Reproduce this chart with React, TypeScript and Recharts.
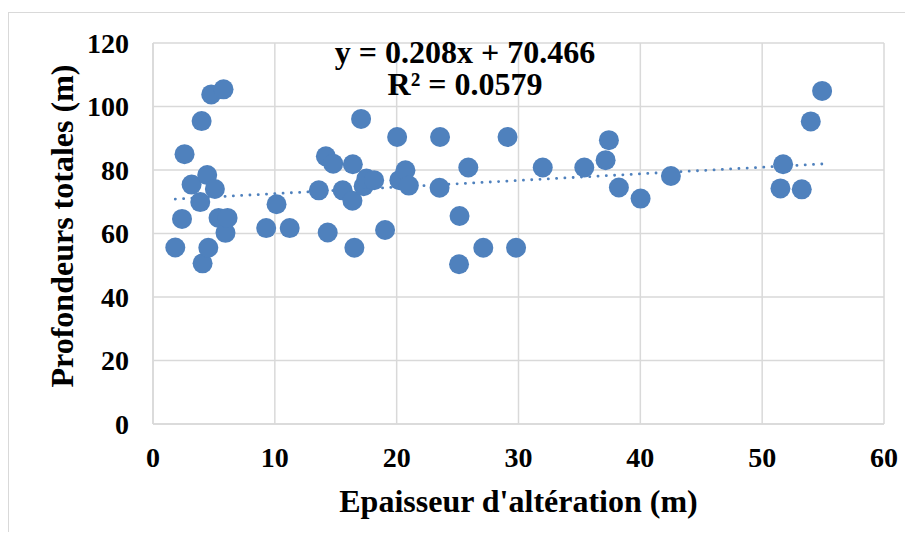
import React from "react";
import {
  ScatterChart,
  Scatter,
  XAxis,
  YAxis,
  CartesianGrid,
  ReferenceLine,
  Label,
} from "recharts";

const epaisseur: number[] = [
  1.83, 2.38, 2.59, 3.17, 3.88, 3.99, 4.45, 4.78, 4.07, 4.54,
  5.08, 5.38, 5.79, 5.95, 6.12, 9.29, 10.14, 11.22, 13.61, 14.19,
  14.34, 14.79, 15.57, 16.4, 16.37, 16.53, 17.08, 17.29, 17.52, 18.15,
  19.05, 20.04, 20.22, 20.72, 21.0, 23.56, 23.52, 25.16, 25.12, 25.88,
  27.11, 29.1, 29.8, 31.99, 35.4, 37.15, 37.42, 38.24, 40.02, 42.51,
  51.5, 51.72, 53.25, 53.99, 54.92,
];
const profondeur: number[] = [
  55.6, 64.6, 85.0, 75.4, 69.9, 95.4, 78.4, 103.8, 50.6, 55.5,
  74.0, 64.9, 105.4, 60.2, 64.9, 61.7, 69.2, 61.7, 73.6, 84.3,
  60.3, 82.0, 73.6, 81.8, 70.3, 55.5, 96.1, 74.9, 77.3, 76.8,
  61.1, 90.4, 76.8, 79.9, 75.1, 90.4, 74.4, 65.5, 50.3, 80.8,
  55.5, 90.4, 55.5, 80.8, 80.8, 83.1, 89.4, 74.5, 71.0, 78.1,
  74.2, 81.8, 73.9, 95.3, 104.9,
];
const xTicks: number[] = [0, 10, 20, 30, 40, 50, 60];
const yTicks: number[] = [0, 20, 40, 60, 80, 100, 120];
const slope = 0.208;
const intercept = 70.466;
const equationText = "y = 0.208x + 70.466";
const r2Text = "R² = 0.0579";
const xTitle = "Epaisseur d'altération (m)";
const yTitle = "Profondeurs totales (m)";

const points = epaisseur.map((x, i) => ({ x, y: profondeur[i] }));
const xMin = Math.min(...epaisseur);
const xMax = Math.max(...epaisseur);

const FONT = "'Liberation Serif', 'Times New Roman', serif";
const DOT = "#4F81BD";
const GRID = "#d9d9d9";

const Dot = (props: any) => (
  <circle cx={props.cx} cy={props.cy} r={10} fill={DOT} />
);

export default function App() {
  return (
    <div
      style={{
        position: "relative",
        width: 913,
        height: 540,
        margin: -8,
        overflow: "hidden",
        background: "#fff",
        fontFamily: FONT,
      }}
    >
      <div
        style={{
          position: "absolute",
          left: 8,
          top: 12,
          width: 1200,
          height: 1200,
          border: `1.5px solid ${GRID}`,
        }}
      />
      <div style={{ position: "absolute", left: 0, top: 0 }}>
        <ScatterChart
          width={913}
          height={540}
          margin={{ top: 43, right: 29, bottom: 0, left: 0 }}
        >
          <CartesianGrid stroke={GRID} strokeWidth={1.5} />
          <XAxis
            type="number"
            dataKey="x"
            domain={[0, 60]}
            ticks={xTicks}
            interval={0}
            height={116}
            axisLine={{ stroke: GRID, strokeWidth: 1.5 }}
            tickLine={false}
            tickSize={0}
            tickMargin={23}
            tick={{ fill: "#000", fontSize: 28, fontWeight: 700, fontFamily: FONT }}
          >
            <Label
              content={(p: any) => {
                const vb = p.viewBox || {};
                return (
                  <text
                    x={vb.x + vb.width / 2}
                    y={512}
                    textAnchor="middle"
                    fill="#000"
                    fontSize={32}
                    fontWeight={700}
                    fontFamily={FONT}
                  >
                    {xTitle}
                  </text>
                );
              }}
            />
          </XAxis>
          <YAxis
            type="number"
            dataKey="y"
            domain={[0, 120]}
            ticks={yTicks}
            interval={0}
            width={153}
            axisLine={{ stroke: GRID, strokeWidth: 1.5 }}
            tickLine={false}
            tickSize={0}
            tickMargin={24}
            tick={{ fill: "#000", fontSize: 28, fontWeight: 700, fontFamily: FONT }}
          >
            <Label
              content={() => {
                const cx = 73;
                const cy = 226;
                return (
                  <text
                    x={cx}
                    y={cy}
                    transform={`rotate(-90 ${cx} ${cy})`}
                    textAnchor="middle"
                    fill="#000"
                    fontSize={32}
                    fontWeight={700}
                    fontFamily={FONT}
                  >
                    {yTitle}
                  </text>
                );
              }}
            />
          </YAxis>
          <ReferenceLine
            segment={[
              { x: xMin, y: slope * xMin + intercept },
              { x: xMax, y: slope * xMax + intercept },
            ]}
            stroke={DOT}
            strokeWidth={2.8}
            strokeDasharray="0.1 8.2"
            strokeLinecap="round"
          />
          <Scatter
            data={points}
            fill={DOT}
            shape={Dot}
            isAnimationActive={false}
          />
        </ScatterChart>
      </div>
      <div
        style={{
          position: "absolute",
          left: 265,
          width: 400,
          top: 36,
          textAlign: "center",
          fontFamily: FONT,
          fontWeight: 700,
          fontSize: 32,
          lineHeight: "32px",
          color: "#000",
        }}
      >
        <div>{equationText}</div>
        <div>{r2Text}</div>
      </div>
    </div>
  );
}
